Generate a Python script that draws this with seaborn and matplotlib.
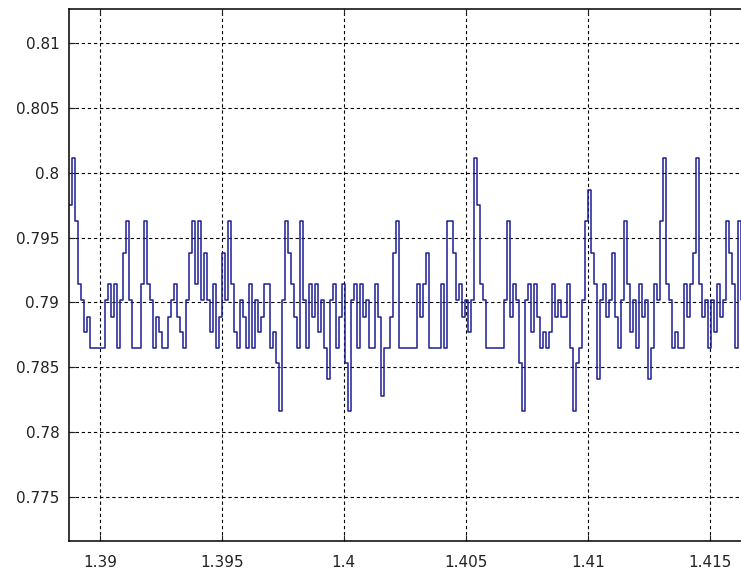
import numpy as np
import pandas as pd
import matplotlib
matplotlib.use("Agg")
import matplotlib.pyplot as plt
import seaborn as sns

seg_1 = [0.7975, 0.8011, 0.7963, 0.7914, 0.7902, 0.7877, 0.7889, 0.7865, 0.7865, 0.7865,
         0.7865, 0.7865, 0.7902, 0.7914, 0.7889, 0.7914, 0.7865, 0.7902, 0.7938, 0.7963,
         0.7902, 0.7865, 0.7865, 0.7865, 0.7914, 0.7963, 0.7914, 0.7902, 0.7865, 0.7889,
         0.7877, 0.7865, 0.7865, 0.7889, 0.7902, 0.7914, 0.7889, 0.7877, 0.7865, 0.7902,
         0.7938, 0.7963, 0.7914, 0.7963, 0.7902, 0.7938]
seg_2 = [0.7902, 0.7877, 0.7914, 0.7865, 0.7889, 0.7938, 0.7902, 0.7963, 0.7914, 0.7877,
         0.7865, 0.7902, 0.7889, 0.7865, 0.7914, 0.7865, 0.7902, 0.7877, 0.7889, 0.7914,
         0.7914, 0.7865, 0.7877, 0.7853, 0.7816, 0.7902, 0.7963, 0.7938, 0.7914, 0.7889,
         0.7865, 0.7963, 0.7902, 0.7865, 0.7914, 0.7889, 0.7914, 0.7877, 0.7902, 0.7865,
         0.7841, 0.7902, 0.7914, 0.7865, 0.7889, 0.7914]
seg_3 = [0.7853, 0.7816, 0.7902, 0.7914, 0.7865, 0.7914, 0.7889, 0.7902, 0.7865, 0.7865,
         0.7914, 0.7889, 0.7828, 0.7865, 0.7865, 0.7889, 0.7938, 0.7963, 0.7865, 0.7865,
         0.7865, 0.7865, 0.7865, 0.7865, 0.7914, 0.7889, 0.7914, 0.7938, 0.7865, 0.7865,
         0.7865, 0.7865, 0.7914, 0.7865, 0.7963, 0.7963, 0.7938, 0.7902, 0.7914, 0.7889,
         0.7902, 0.7877, 0.7902]
seg_4 = [0.8011, 0.7975, 0.7914, 0.7902, 0.7865, 0.7865, 0.7865, 0.7865, 0.7865, 0.7865,
         0.7902, 0.7963, 0.7889, 0.7914, 0.7902, 0.7853, 0.7816, 0.7902, 0.7914, 0.7877,
         0.7914, 0.7889, 0.7865, 0.7877, 0.7865, 0.7877, 0.7914, 0.7889, 0.7902, 0.7889,
         0.7889, 0.7914, 0.7865, 0.7816, 0.7853, 0.7865, 0.7902, 0.7963, 0.7987, 0.7938,
         0.7914, 0.7841, 0.7902, 0.7914, 0.7889, 0.7902]
seg_5 = [0.7938, 0.7889, 0.7865, 0.7902, 0.7963, 0.7914, 0.7877, 0.7902, 0.7865, 0.7914,
         0.7889, 0.7902, 0.7841, 0.7865, 0.7914, 0.7902, 0.7963, 0.8011, 0.7914, 0.7902,
         0.7865, 0.7877, 0.7865, 0.7865, 0.7914, 0.7889, 0.7914, 0.7938, 0.8011, 0.7914,
         0.7889, 0.7902, 0.7865, 0.7902, 0.7877, 0.7914, 0.7889, 0.7902, 0.7963, 0.7938,
         0.7914, 0.7865, 0.7963, 0.7902]

t_start = 1.38873
t_step = 0.000123

x_ticks = [1.39, 1.395, 1.4, 1.405, 1.41, 1.415]
x_labels = ["1.39", "1.395", "1.4", "1.405", "1.41", "1.415"]
y_ticks = [0.775, 0.78, 0.785, 0.79, 0.795, 0.8, 0.805, 0.81]
y_labels = ["0.775", "0.78", "0.785", "0.79", "0.795", "0.8", "0.805", "0.81"]

values = seg_1 + seg_2 + seg_3 + seg_4 + seg_5
df = pd.DataFrame({"t": t_start + t_step * np.arange(len(values)), "v": values})

sns.set_style("ticks")
plt.rcParams["font.family"] = ["DejaVu Sans"]

fig = plt.figure(figsize=(7.41, 5.76), dpi=100)
ax = fig.add_axes([0.0931, 0.0608, 0.9269, 0.9236])

sns.lineplot(data=df, x="t", y="v", ax=ax, color="#1c1c96", linewidth=1.1,
             drawstyle="steps-post", estimator=None, sort=False)

ax.set_xlim(1.38873, 1.41689)
ax.set_ylim(0.77161, 0.81262)
ax.set_xticks(x_ticks)
ax.set_xticklabels(x_labels)
ax.set_yticks(y_ticks)
ax.set_yticklabels(y_labels)
ax.set_xlabel("")
ax.set_ylabel("")

ax.grid(True, color="black", linestyle=(0, (3, 2.5)), linewidth=0.8)
ax.tick_params(direction="in", length=4, width=0.8, labelsize=11, colors="#222222",
               top=True, right=True)
ax.tick_params(axis="x", pad=10)
ax.tick_params(axis="y", pad=7)
for s in ax.spines.values():
    s.set_color("black")
    s.set_linewidth(1.1)

fig.savefig("out.png", dpi=100, facecolor="white")
